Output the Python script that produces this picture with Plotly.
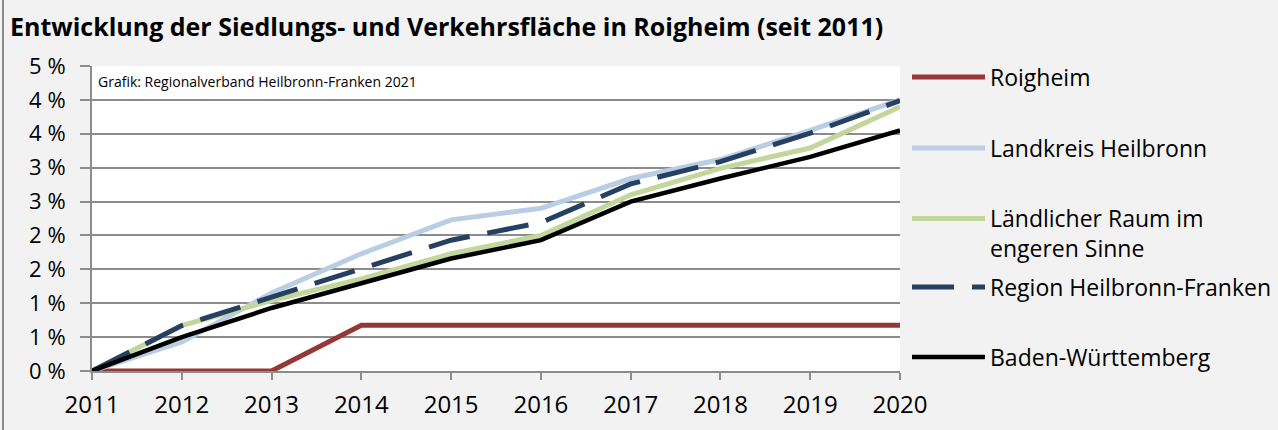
import plotly.graph_objects as go

years = [2011, 2012, 2013, 2014, 2015, 2016, 2017, 2018, 2019, 2020]
roigheim = [0, 0, 0, 0.675, 0.675, 0.675, 0.675, 0.675, 0.675, 0.675]
landkreis = [0, 0.43, 1.15, 1.73, 2.23, 2.40, 2.84, 3.12, 3.55, 4.00]
laendlich = [0, 0.67, 1.04, 1.36, 1.73, 2.00, 2.60, 2.99, 3.29, 3.90]
region = [0, 0.67, 1.09, 1.51, 1.93, 2.19, 2.76, 3.09, 3.51, 3.99]
bawue = [0, 0.50, 0.93, 1.29, 1.66, 1.93, 2.50, 2.84, 3.16, 3.55]

series_names = ["Roigheim", "Landkreis Heilbronn", "Ländlicher Raum im<br>engeren Sinne",
                "Region Heilbronn-Franken", "Baden-Württemberg"]
y_tickvals = [0, 0.5, 1.0, 1.5, 2.0, 2.5, 3.0, 3.5, 4.0, 4.5]
y_ticktext = ["0 %", "1 %", "1 %", "2 %", "2 %", "3 %", "3 %", "4 %", "4 %", "5 %"]

title_text = "Entwicklung der Siedlungs- und Verkehrsfläche in Roigheim (seit 2011)"
source_text = "Grafik: Regionalverband Heilbronn-Franken 2021"

W, H = 1278, 430
L, R, T, B = 92, 378, 66, 59
pw, ph = W - L - R, H - T - B

def px_x(p):
    return (p - L) / pw

def px_y(p):
    return (H - B - p) / ph

FONT = "Open Sans"
fig = go.Figure()

styles = [
    dict(color="#953735", width=5, dash="solid"),
    dict(color="#B9CDE5", width=5, dash="solid"),
    dict(color="#C3D69B", width=5, dash="solid"),
    dict(color="#254061", width=5, dash="42px,18px"),
    dict(color="#000000", width=4.5, dash="solid"),
]
data = [roigheim, landkreis, laendlich, region, bawue]
legend_ids = ["legend", "legend2", "legend3", "legend4", "legend5"]
legend_centers = [77, 148, 218, 287, 357]

for name, vals, st, lid in zip(series_names, data, styles, legend_ids):
    fig.add_trace(go.Scatter(x=years, y=vals, mode="lines", name=name,
                             line=st, legend=lid, showlegend=True))

layout_legends = {}
for i, (lid, cy) in enumerate(zip(legend_ids, legend_centers)):
    d = dict(x=px_x(907), xanchor="left", y=px_y(cy), yanchor="middle",
             bgcolor="rgba(0,0,0,0)", borderwidth=0, itemwidth=73,
             font=dict(family=FONT, size=23, color="#000000"))
    if i == 2:
        d.update(valign="top", yanchor="top", y=px_y(cy - 21))
    layout_legends[lid] = d

fig.update_layout(
    width=W, height=H,
    margin=dict(l=L, r=R, t=T, b=B, autoexpand=False),
    paper_bgcolor="#F2F2F2", plot_bgcolor="#FFFFFF",
    title=dict(text="<b>" + title_text + "</b>", x=10 / W, xanchor="left",
               y=1 - 27 / H, yanchor="middle", xref="container", yref="container",
               font=dict(family=FONT, size=25, color="#000000")),
    xaxis=dict(range=[2011, 2020], tickvals=years, ticktext=[str(y) for y in years],
               showgrid=False, zeroline=False, showline=True, linecolor="#8C8C8C",
               linewidth=2, ticks="outside", ticklen=7, tickwidth=2, tickcolor="#8C8C8C",
               tickfont=dict(family=FONT, size=24, color="#000000"),
               ticklabelstandoff=4, fixedrange=True),
    yaxis=dict(range=[0, 4.5], tickvals=y_tickvals, ticktext=y_ticktext,
               showgrid=True, gridcolor="#8C8C8C", gridwidth=2, zeroline=False,
               showline=True, linecolor="#8C8C8C", linewidth=2, ticks="outside",
               ticklen=10, tickwidth=2, tickcolor="#8C8C8C",
               tickfont=dict(family=FONT, size=22, color="#000000"),
               ticklabelstandoff=10, fixedrange=True),
    annotations=[dict(text=source_text, xref="paper", yref="paper",
                      x=px_x(96), y=px_y(81), xanchor="left", yanchor="middle",
                      showarrow=False, font=dict(family=FONT, size=14, color="#000000"))],
    shapes=[dict(type="line", xref="paper", yref="paper", x0=px_x(3), x1=px_x(3),
                 y0=px_y(-5), y1=px_y(H + 5), line=dict(color="#8C8C8C", width=2))],
    **layout_legends,
)

fig.write_html("out.html", config={"displayModeBar": False},
               post_script="document.body.style.margin='0px';")
